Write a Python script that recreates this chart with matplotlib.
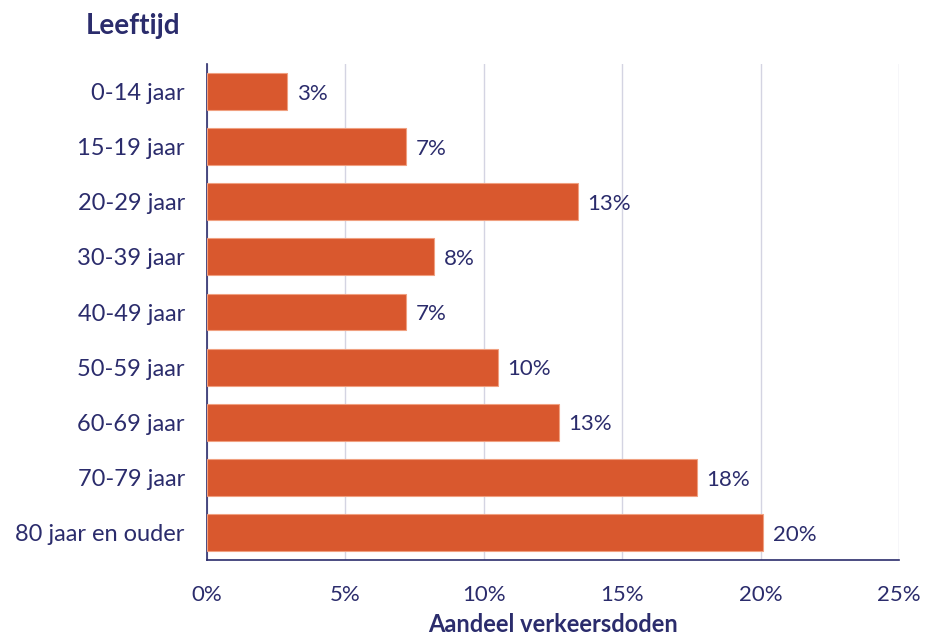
import matplotlib
matplotlib.use("Agg")
import matplotlib.pyplot as plt
from matplotlib.ticker import FuncFormatter

# leeftijdsgroepen en aandeel verkeersdoden [%]
categories = ["0-14 jaar", "15-19 jaar", "20-29 jaar", "30-39 jaar", "40-49 jaar",
              "50-59 jaar", "60-69 jaar", "70-79 jaar", "80 jaar en ouder"]
values = [2.9, 7.2, 13.4, 8.2, 7.2, 10.5, 12.7, 17.7, 20.1]
labels = ["3%", "7%", "13%", "8%", "7%", "10%", "13%", "18%", "20%"]
xticks = [0, 5, 10, 15, 20, 25]

navy = "#2B2C6C"
orange = "#D9582E"

plt.rcParams['font.family'] = ['Lato', 'DejaVu Sans']

fig = plt.figure(figsize=(9.34, 6.42), dpi=100)
ax = fig.add_axes([0.2216, 0.1277, 0.7409, 0.7726])

y = list(range(len(categories)))
ax.barh(y, values, height=0.67, color=orange, edgecolor="#F0A080", linewidth=0.8, zorder=3)

for yi, v, lab in zip(y, values, labels):
    ax.text(v + 0.35, yi + 0.04, lab, va="center", ha="left", fontsize=16, color=navy)

ax.set_ylim(len(categories) - 0.5, -0.5)
ax.set_xlim(0, 25)
ax.set_yticks(y)
ax.set_yticklabels(categories, fontsize=17)
ax.set_xticks(xticks)
ax.xaxis.set_major_formatter(FuncFormatter(lambda v, p: "{:.0f}%".format(v)))
ax.tick_params(axis="both", length=0, colors=navy)
ax.tick_params(axis="x", pad=18, labelsize=16)
ax.tick_params(axis="y", pad=16)

ax.grid(axis="x", color="#D4D4E2", linewidth=1, zorder=0)
for s in ["top", "right"]:
    ax.spines[s].set_visible(False)
ax.spines["left"].set_color(navy)
ax.spines["bottom"].set_color(navy)
ax.spines["left"].set_linewidth(1.2)
ax.spines["bottom"].set_linewidth(1.2)

ax.set_xlabel("Aandeel verkeersdoden", fontsize=17, fontweight="bold", color=navy, labelpad=6)
fig.text(0.092, 0.98, "Leeftijd", fontsize=20, fontweight="bold", color=navy, va="top")

fig.savefig("out.png", dpi=100)
